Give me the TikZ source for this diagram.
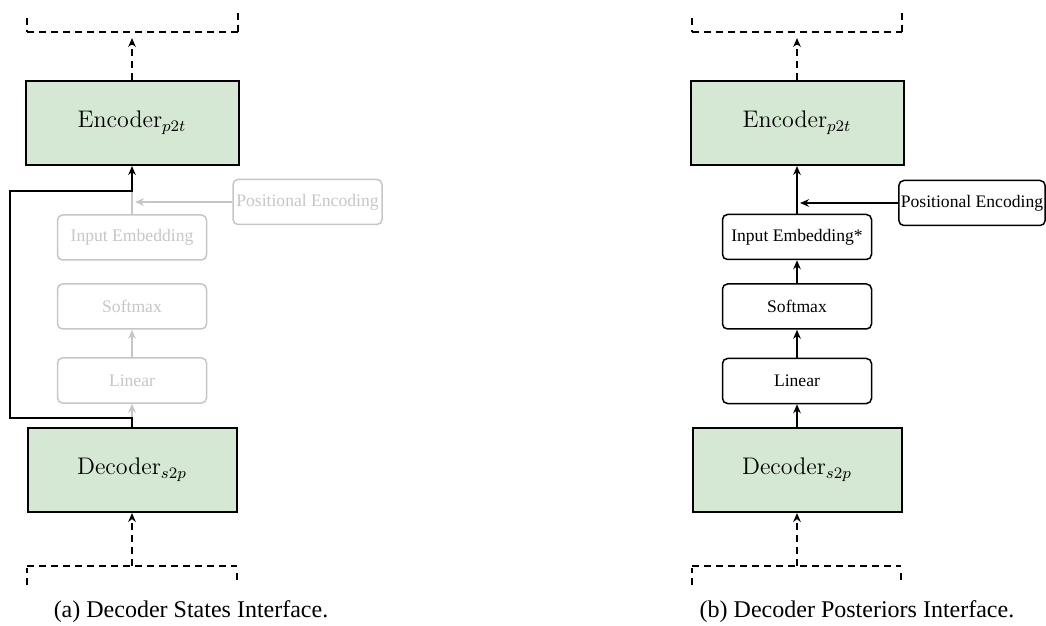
\documentclass[tikz,border=0pt]{standalone}
\usepackage{fontspec}
\usepackage{amsmath}
\newfontfamily\tms{Liberation Serif}
\usetikzlibrary{arrows.meta}

\begin{document}
\begin{tikzpicture}[x=0.5pt,y=-0.5pt,
    block/.style={draw,line width=1pt,fill=col_green,minimum width=106.5pt,minimum height=42pt,font=\fontsize{12}{14}\selectfont},
    layer/.style={draw,line width=0.75pt,rounded corners=2.5pt,minimum width=74.5pt,minimum height=22.5pt,inner xsep=1pt,font=\tms\fontsize{8.8}{10}\selectfont},
    faded/.style={draw=col_faded,text=col_faded},
    arr/.style={line width=0.75pt,-{Stealth[length=4.5pt,width=3.8pt]}},
    dasharr/.style={arr,dash pattern=on 3.5pt off 2.5pt},
    bracket/.style={line width=0.75pt,dash pattern=on 3.5pt off 2.5pt},
    caption/.style={font=\tms\fontsize{12}{14}\selectfont}]
    \definecolor{col_green}{HTML}{D5E8D4} % fill of encoder/decoder
    \definecolor{col_faded}{HTML}{C6C6C6} % unused layers in (a)
    \useasboundingbox (0,0) rectangle (1046,626);
    % (a) decoder states
    \node[block] (enc_a) at (132,123) {Encoder$_{p2t}$};
    \node[block,minimum width=104.5pt] (dec_a) at (132,470) {Decoder$_{s2p}$};
    \node[layer,faded] (emb_a) at (132,237.5) {Input Embedding};
    \node[layer,faded] (soft_a) at (132,306.5) {Softmax};
    \node[layer,faded] (lin_a) at (132,380.5) {Linear};
    \node[layer,faded] (pos_a) at (307.5,202) {Positional Encoding};
    \coordinate (top_a) at (132,38);
    \coordinate (bot_a) at (132,566);
    \coordinate (skip_lo) at (10,418);
    \coordinate (skip_hi) at (10,191);
    \draw[bracket] (27,32)--(238,32);
    \draw[bracket] (27,18)--(27,32) (238,13)--(238,32);
    \draw[bracket] (27,566)--(237,566);
    \draw[bracket] (27,585)--(27,568) (237,580)--(237,568);
    \draw[dasharr] (enc_a.north)--(top_a);
    \draw[dasharr] (bot_a)--(dec_a.south);
    \draw[arr,draw=col_faded] (skip_lo -| lin_a.south)--(lin_a.south);
    \draw[arr,draw=col_faded] (lin_a)--(soft_a);
    \draw[line width=0.75pt,draw=col_faded] (emb_a.north)--(emb_a.north |- skip_hi);
    \draw[arr,draw=col_faded,shorten >=1.5pt] (pos_a.west)--(pos_a.west -| emb_a.north);
    \draw[arr] (dec_a.north) |- (skip_lo)--(skip_hi) -| (enc_a.south);
    \node[caption] (cap_a) at (191,612) {(a) Decoder States Interface.};
    % (b) decoder posteriors
    \node[block] (enc_b) at (797,123) {Encoder$_{p2t}$};
    \node[block,minimum width=104.5pt] (dec_b) at (797,470) {Decoder$_{s2p}$};
    \node[layer] (emb_b) at (797,237) {Input Embedding*};
    \node[layer] (soft_b) at (797,306.5) {Softmax};
    \node[layer] (lin_b) at (797,381) {Linear};
    \node[layer,minimum width=73pt] (pos_b) at (972,203) {Positional Encoding};
    \coordinate (top_b) at (797,38);
    \coordinate (bot_b) at (797,566);
    \draw[bracket] (692,32)--(902,32);
    \draw[bracket] (692,18)--(692,32) (902,13)--(902,32);
    \draw[bracket] (692,566)--(901,566);
    \draw[bracket] (692,585)--(692,568) (901,580)--(901,568);
    \draw[dasharr] (enc_b.north)--(top_b);
    \draw[dasharr] (bot_b)--(dec_b.south);
    \draw[arr] (dec_b)--(lin_b);
    \draw[arr] (lin_b)--(soft_b);
    \draw[arr] (soft_b)--(emb_b);
    \draw[arr] (emb_b)--(enc_b);
    \draw[arr,shorten >=1.5pt] (pos_b.west)--(pos_b.west -| emb_b.north);
    \node[caption] (cap_b) at (857,612) {(b) Decoder Posteriors Interface.};
\end{tikzpicture}
\end{document}
